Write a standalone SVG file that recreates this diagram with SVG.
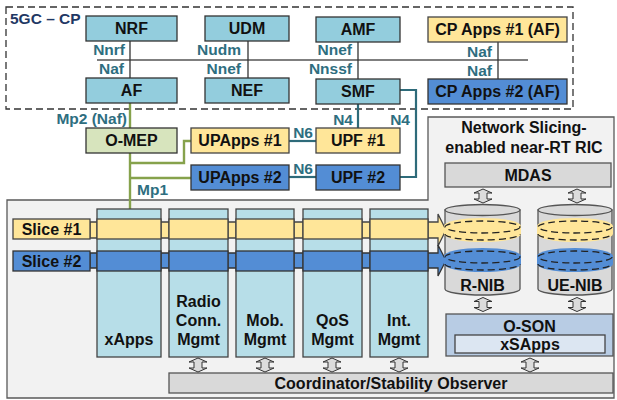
<svg xmlns="http://www.w3.org/2000/svg" width="617" height="400" viewBox="0 0 617 400">
  <style>
    .t { font-family: "Liberation Sans", Arial, sans-serif; font-weight: bold; font-size: 16px; text-anchor: middle; fill: #111; }
    .lbl { font-family: "Liberation Sans", Arial, sans-serif; font-weight: bold; font-size: 15.5px; text-anchor: end; fill: #2e6e80; }
    .teal { fill: #93cddd; stroke: #333; stroke-width: 1.3; }
    .yel { fill: #ffe699; stroke: #444; stroke-width: 1.3; }
    .blu { fill: #538dd5; stroke: #333; stroke-width: 1.3; }
    .col { fill: #b7dee8; stroke: #444; stroke-width: 1.3; }
    .gry { fill: #d9d9d9; stroke: #555; stroke-width: 1.3; }
    .bus { fill: none; stroke: #555; stroke-width: 1.6; }
    .thin { fill: none; stroke: #333; stroke-width: 1.3; }
    .nlink { fill: none; stroke: #2e6b7a; stroke-width: 2.2; }
    .mp { fill: none; stroke: #86a24c; stroke-width: 2.4; }
    .dash { fill: none; stroke: #222; stroke-width: 1.3; stroke-dasharray: 7 4; }
    .dbl { fill: #dcdcdc; stroke: #333; stroke-width: 1; }
  </style>
  <defs>
    <path id="dbl" class="dbl" d="M0,-7 L9,-3 L4,-3 L4,3 L9,3 L0,7 L-9,3 L-4,3 L-4,-3 L-9,-3 Z"/>
  </defs>

  <!-- near-RT RIC area (L-shaped panel) -->
  <path id="ric-panel" d="M7,200 L428,200 L428,117 L614,117 L614,398 L7,398 Z" fill="#f2f2f2" stroke="#595959" stroke-width="1.3"/>

  <!-- 5GC control plane boundary -->
  <g id="cp-domain">
    <rect x="6" y="7" width="567" height="102" fill="none" stroke="#333" stroke-width="1.3" stroke-dasharray="7 4"/>
    <text x="10" y="24" class="t" style="text-anchor:start;fill:#1f3864;font-size:15.5px">5GC – CP</text>
  </g>

  <!-- connectors -->
  <g id="connectors">
    <line class="bus" x1="97" y1="60" x2="528" y2="60"/>
    <line class="thin" x1="130" y1="41" x2="130" y2="78"/>
    <line class="thin" x1="248" y1="41" x2="248" y2="78"/>
    <line class="thin" x1="358" y1="42" x2="358" y2="79"/>
    <line class="thin" x1="498" y1="42" x2="498" y2="79"/>
    <!-- N4 -->
    <line class="nlink" x1="358" y1="104" x2="358" y2="128"/>
    <polyline class="nlink" points="400,90 416,90 416,177 400,177"/>
    <!-- N6 -->
    <line class="nlink" x1="289" y1="141" x2="316" y2="141"/>
    <line class="nlink" x1="289" y1="177" x2="316" y2="177"/>
    <!-- Mp2 / Mp1 -->
    <line class="mp" x1="130" y1="103" x2="130" y2="128"/>
    <line class="mp" x1="130" y1="153" x2="130" y2="209"/>
    <polyline class="mp" points="130,163 184,163 184,141 191,141"/>
    <line class="mp" x1="130" y1="178" x2="191" y2="178"/>

    <text class="lbl" x="125" y="55">Nnrf</text>
    <text class="lbl" x="124" y="74">Naf</text>
    <text class="lbl" x="241" y="55">Nudm</text>
    <text class="lbl" x="241" y="74">Nnef</text>
    <text class="lbl" x="352" y="55">Nnef</text>
    <text class="lbl" x="352" y="74">Nnssf</text>
    <text class="lbl" x="492" y="57">Naf</text>
    <text class="lbl" x="492" y="76">Naf</text>
    <text class="lbl" x="127" y="124">Mp2 (Naf)</text>
    <text class="lbl" x="168" y="195">Mp1</text>
    <text class="lbl" x="353" y="125">N4</text>
    <text class="lbl" x="410" y="125">N4</text>
    <text class="lbl" x="313" y="138">N6</text>
    <text class="lbl" x="313" y="174">N6</text>
  </g>

  <!-- core network functions -->
  <g id="nrf"><rect class="teal" x="86" y="16" width="91" height="25"/><text class="t" x="131.5" y="34">NRF</text></g>
  <g id="udm"><rect class="teal" x="205" y="16" width="84" height="25"/><text class="t" x="247" y="34">UDM</text></g>
  <g id="amf"><rect class="teal" x="316" y="17" width="84" height="25"/><text class="t" x="358" y="35">AMF</text></g>
  <g id="cp-apps-1"><rect class="yel" x="428" y="17" width="139" height="25"/><text class="t" x="497.5" y="35">CP Apps #1 (AF)</text></g>
  <g id="af"><rect class="teal" x="86" y="78" width="91" height="25"/><text class="t" x="131.5" y="96">AF</text></g>
  <g id="nef"><rect class="teal" x="205" y="78" width="84" height="25"/><text class="t" x="247" y="96">NEF</text></g>
  <g id="smf"><rect class="teal" x="316" y="79" width="84" height="25"/><text class="t" x="358" y="97">SMF</text></g>
  <g id="cp-apps-2"><rect class="blu" x="428" y="79" width="139" height="25"/><text class="t" x="497.5" y="97">CP Apps #2 (AF)</text></g>

  <!-- edge / user plane -->
  <g id="o-mep"><rect x="86" y="128" width="91" height="25" fill="#d7e4bd" stroke="#333" stroke-width="1.3"/><text class="t" x="131.5" y="146">O-MEP</text></g>
  <g id="upapps-1"><rect class="yel" x="191" y="128" width="98" height="25"/><text class="t" x="240" y="146">UPApps #1</text></g>
  <g id="upapps-2"><rect class="blu" x="191" y="165" width="98" height="25"/><text class="t" x="240" y="183">UPApps #2</text></g>
  <g id="upf-1"><rect class="yel" x="316" y="128" width="84" height="25"/><text class="t" x="358" y="146">UPF #1</text></g>
  <g id="upf-2"><rect class="blu" x="316" y="165" width="84" height="25"/><text class="t" x="358" y="183">UPF #2</text></g>

  <!-- RIC title and MDAS -->
  <g id="ric-title">
    <text class="t" x="524" y="133">Network Slicing-</text>
    <text class="t" x="524" y="153">enabled near-RT RIC</text>
  </g>
  <g id="mdas"><rect class="gry" x="445" y="163" width="166" height="24"/><text class="t" x="528" y="181">MDAS</text></g>

  <!-- slice arrows -->
  <g id="slice-arrows">
    <path class="yel" d="M90,222 L438,222 L438,214 L446,230 L438,246 L438,238 L90,238 Z"/>
    <path class="blu" d="M90,253 L438,253 L438,245 L446,260.5 L438,276 L438,268 L90,268 Z"/>
  </g>
  <g id="slice-1"><rect class="yel" x="13" y="219" width="77" height="20"/><text class="t" x="51.5" y="235">Slice #1</text></g>
  <g id="slice-2"><rect class="blu" x="13" y="251" width="77" height="20"/><text class="t" x="51.5" y="267">Slice #2</text></g>

  <!-- xApp columns -->
  <g id="xapps">
    <rect class="col" x="97" y="209" width="64" height="148"/>
    <rect class="yel" x="97" y="219" width="64" height="20"/>
    <rect class="blu" x="97" y="251" width="64" height="20"/>
    <text class="t" x="129" y="345">xApps</text>
  </g>
  <g id="radio-conn-mgmt">
    <rect class="col" x="169" y="209" width="59" height="148"/>
    <rect class="yel" x="169" y="219" width="59" height="20"/>
    <rect class="blu" x="169" y="251" width="59" height="20"/>
    <text class="t" x="198.5" y="307">Radio</text>
    <text class="t" x="198.5" y="326">Conn.</text>
    <text class="t" x="198.5" y="345">Mgmt</text>
  </g>
  <g id="mob-mgmt">
    <rect class="col" x="236" y="209" width="58" height="148"/>
    <rect class="yel" x="236" y="219" width="58" height="20"/>
    <rect class="blu" x="236" y="251" width="58" height="20"/>
    <text class="t" x="265" y="326">Mob.</text>
    <text class="t" x="265" y="345">Mgmt</text>
  </g>
  <g id="qos-mgmt">
    <rect class="col" x="303" y="209" width="59" height="148"/>
    <rect class="yel" x="303" y="219" width="59" height="20"/>
    <rect class="blu" x="303" y="251" width="59" height="20"/>
    <text class="t" x="332.5" y="326">QoS</text>
    <text class="t" x="332.5" y="345">Mgmt</text>
  </g>
  <g id="int-mgmt">
    <rect class="col" x="370" y="209" width="58" height="148"/>
    <rect class="yel" x="370" y="219" width="58" height="20"/>
    <rect class="blu" x="370" y="251" width="58" height="20"/>
    <text class="t" x="399" y="326">Int.</text>
    <text class="t" x="399" y="345">Mgmt</text>
  </g>

  <!-- network information bases -->
  <g id="r-nib">
    <path class="gry" d="M445,210 L445,289 A37.5,6 0 0 0 520,289 L520,210 Z"/>
    <ellipse class="gry" cx="482.5" cy="210" rx="37.5" ry="5.5"/>
    <path d="M444,226 A38.5,8 0 0 1 521,226 L521,234 A38.5,8 0 0 1 444,234 Z" fill="#ffe699"/>
    <ellipse class="dash" cx="482.5" cy="227" rx="37.5" ry="6"/>
    <path class="dash" d="M445,234 A37.5,6 0 0 0 520,234"/>
    <path d="M444,256 A38.5,8 0 0 1 521,256 L521,264 A38.5,8 0 0 1 444,264 Z" fill="#538dd5"/>
    <ellipse class="dash" cx="482.5" cy="257" rx="37.5" ry="6"/>
    <path class="dash" d="M445,264 A37.5,6 0 0 0 520,264"/>
    <text class="t" x="482.5" y="291">R-NIB</text>
  </g>
  <g id="ue-nib">
    <path class="gry" d="M538,210 L538,289 A37,6 0 0 0 612,289 L612,210 Z"/>
    <ellipse class="gry" cx="575" cy="210" rx="37" ry="5.5"/>
    <path d="M537,226 A38,8 0 0 1 613,226 L613,234 A38,8 0 0 1 537,234 Z" fill="#ffe699"/>
    <ellipse class="dash" cx="575" cy="227" rx="37" ry="6"/>
    <path class="dash" d="M538,234 A37,6 0 0 0 612,234"/>
    <path d="M537,256 A38,8 0 0 1 613,256 L613,264 A38,8 0 0 1 537,264 Z" fill="#538dd5"/>
    <ellipse class="dash" cx="575" cy="257" rx="37" ry="6"/>
    <path class="dash" d="M538,264 A37,6 0 0 0 612,264"/>
    <text class="t" x="575" y="291">UE-NIB</text>
  </g>

  <!-- O-SON -->
  <g id="o-son">
    <rect x="446" y="314" width="167" height="42" fill="#b8cce4" stroke="#555" stroke-width="1.3"/>
    <text class="t" x="529.5" y="332">O-SON</text>
    <rect x="455" y="335" width="150" height="18" fill="#dce6f2" stroke="#444" stroke-width="1.3"/>
    <text class="t" x="530" y="350">xSApps</text>
  </g>

  <!-- coordinator -->
  <g id="coordinator">
    <rect class="gry" x="169" y="373" width="444" height="20"/>
    <text class="t" x="391" y="389">Coordinator/Stability Observer</text>
  </g>

  <!-- bidirectional interfaces -->
  <g id="interfaces">
    <use href="#dbl" x="483" y="196"/>
    <use href="#dbl" x="577" y="196"/>
    <use href="#dbl" x="483" y="304.5"/>
    <use href="#dbl" x="577" y="304.5"/>
    <use href="#dbl" x="198" y="365"/>
    <use href="#dbl" x="265" y="365"/>
    <use href="#dbl" x="332" y="365"/>
    <use href="#dbl" x="399" y="365"/>
    <use href="#dbl" x="530" y="365"/>
  </g>
</svg>
